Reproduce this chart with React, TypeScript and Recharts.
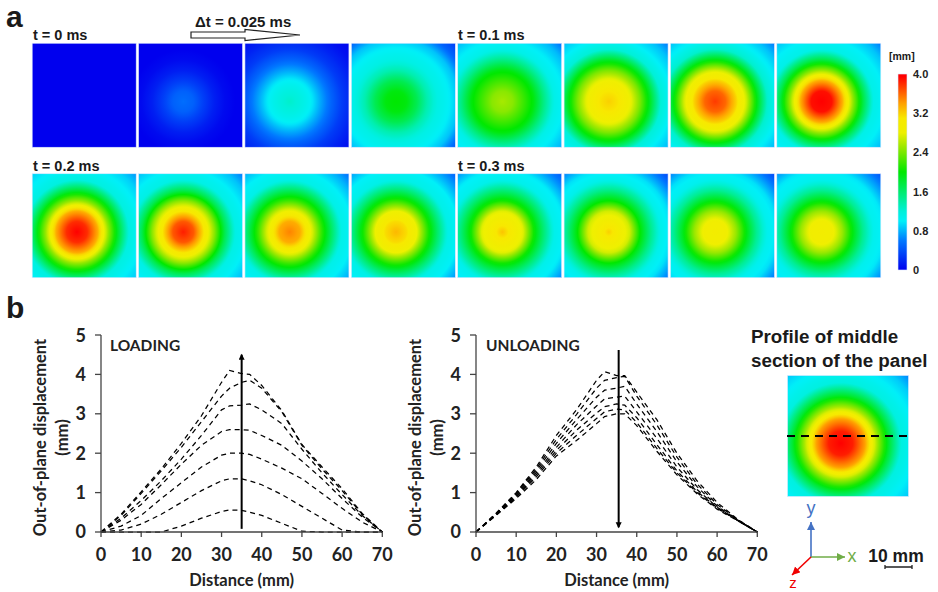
import React from "react";
import {
  BarChart, Bar, LineChart, Line, ScatterChart, Scatter, XAxis, YAxis, ReferenceLine,
} from "recharts";

// ---------- data ----------
// Displacement (mm) read at growing distances from the peak of every frame
const frameProfiles = [
  [0, 0, 0, 0, 0, 0, 0, 0, 0],
  [0.55, 0.48, 0.3, 0.15, 0.05, 0, 0, 0, 0],
  [1.25, 1.15, 1.02, 0.75, 0.5, 0.3, 0.18, 0.08, 0.03],
  [2.0, 1.95, 1.7, 1.35, 1.12, 1.02, 0.85, 0.5, 0.3],
  [2.55, 2.45, 2.2, 1.95, 1.5, 1.1, 0.98, 0.82, 0.55],
  [3.2, 3.1, 2.85, 2.4, 1.85, 1.2, 1.0, 0.85, 0.6],
  [3.75, 3.6, 3.2, 2.7, 1.95, 1.25, 1.02, 0.85, 0.6],
  [3.95, 3.9, 3.35, 2.5, 1.75, 1.1, 1.0, 0.85, 0.6],
  [3.95, 3.8, 3.35, 2.5, 1.8, 1.15, 1.02, 0.9, 0.7],
  [3.85, 3.65, 3.1, 2.45, 1.7, 1.12, 1.0, 0.85, 0.6],
  [3.5, 3.35, 2.85, 2.2, 1.65, 1.1, 1.0, 0.8, 0.55],
  [3.3, 3.15, 2.8, 2.15, 1.6, 1.1, 1.0, 0.75, 0.5],
  [3.25, 3.0, 2.75, 2.05, 1.55, 1.08, 0.98, 0.7, 0.45],
  [3.2, 2.95, 2.7, 2.0, 1.5, 1.08, 0.95, 0.65, 0.35],
  [2.95, 2.9, 2.5, 1.95, 1.45, 1.07, 0.95, 0.65, 0.35],
  [2.95, 2.9, 2.5, 1.95, 1.45, 1.07, 0.97, 0.7, 0.42],
];
const insetProfile = [3.95, 3.85, 3.4, 2.55, 1.8, 1.15, 1.02, 0.88, 0.62];
const colorStops: [number, string][] = [
  [0, "#0000ee"], [0.6, "#0078ff"], [1.0, "#00f0f8"], [1.2, "#00f0d8"], [2.0, "#00e800"],
  [2.5, "#98e800"], [2.8, "#eef000"], [3.1, "#f8e800"], [3.4, "#ffa000"], [3.95, "#ff0000"], [4, "#ff0000"],
];
const colorTicks = [0, 0.8, 1.6, 2.4, 3.2, 4.0];

const distance = [0, 5, 10, 15, 20, 25, 30, 32, 35, 37, 40, 45, 50, 55, 60, 65, 70];
const loading = [
  [0, 0, 0, 0, 0.15, 0.35, 0.52, 0.56, 0.55, 0.5, 0.42, 0.22, 0.02, 0, 0, 0, 0],
  [0, 0.05, 0.2, 0.45, 0.75, 1.05, 1.3, 1.35, 1.35, 1.3, 1.2, 0.95, 0.65, 0.35, 0.05, 0, 0],
  [0, 0.15, 0.42, 0.85, 1.25, 1.65, 1.95, 2.0, 2.0, 1.97, 1.85, 1.62, 1.35, 0.98, 0.6, 0.25, 0],
  [0, 0.3, 0.7, 1.2, 1.72, 2.2, 2.55, 2.6, 2.6, 2.58, 2.45, 2.2, 1.8, 1.35, 0.85, 0.38, 0],
  [0, 0.35, 0.8, 1.3, 1.85, 2.45, 3.1, 3.2, 3.22, 3.25, 3.1, 2.75, 2.1, 1.5, 0.95, 0.42, 0],
  [0, 0.42, 0.98, 1.55, 2.15, 2.8, 3.45, 3.65, 3.8, 3.85, 3.65, 3.05, 2.2, 1.6, 1.05, 0.45, 0],
  [0, 0.45, 1.02, 1.6, 2.25, 2.95, 3.8, 4.1, 4.02, 4.0, 3.72, 3.08, 2.22, 1.65, 1.1, 0.47, 0],
];
const unloading = [
  [0, 0.48, 1.0, 1.65, 2.45, 3.1, 3.85, 4.07, 3.97, 3.97, 3.55, 2.85, 2.0, 1.3, 0.75, 0.33, 0],
  [0, 0.47, 0.98, 1.6, 2.35, 2.98, 3.65, 3.85, 3.92, 3.95, 3.45, 2.72, 1.9, 1.22, 0.7, 0.32, 0],
  [0, 0.46, 0.95, 1.55, 2.25, 2.85, 3.42, 3.6, 3.65, 3.7, 3.25, 2.55, 1.78, 1.15, 0.66, 0.31, 0],
  [0, 0.45, 0.93, 1.5, 2.15, 2.72, 3.2, 3.38, 3.42, 3.45, 3.05, 2.38, 1.65, 1.08, 0.63, 0.3, 0],
  [0, 0.44, 0.9, 1.45, 2.07, 2.58, 3.02, 3.18, 3.25, 3.22, 2.9, 2.22, 1.55, 1.03, 0.62, 0.3, 0],
  [0, 0.43, 0.88, 1.4, 2.0, 2.45, 2.88, 3.05, 3.12, 3.1, 2.78, 2.12, 1.5, 1.0, 0.6, 0.3, 0],
  [0, 0.42, 0.85, 1.33, 1.93, 2.32, 2.75, 2.93, 3.0, 3.0, 2.7, 2.05, 1.45, 0.97, 0.58, 0.29, 0],
];
const xTicks = [0, 10, 20, 30, 40, 50, 60, 70];
const yTicks = [0, 1, 2, 3, 4, 5];

// ---------- helpers ----------
const hex = (s: string) => [1, 3, 5].map((i) => parseInt(s.slice(i, i + 2), 16));
function colorOf(v: number) {
  for (let i = 1; i < colorStops.length; i++) {
    const [v1, c1] = colorStops[i];
    const [v0, c0] = colorStops[i - 1];
    if (v <= v1) {
      const t = (v - v0) / (v1 - v0);
      const a = hex(c0), b = hex(c1);
      return `rgb(${a.map((x, k) => Math.round(x + (b[k] - x) * t)).join(",")})`;
    }
  }
  return colorStops[colorStops.length - 1][1];
}
function Gradient({ id, profile, r, cx, cy }: { id: string; profile: number[]; r: number; cx: number; cy: number }) {
  const stops: React.ReactNode[] = [];
  const steps = 5;
  for (let i = 0; i < profile.length - 1; i++) {
    for (let s = 0; s < steps; s++) {
      const t = s / steps;
      const v = profile[i] + (profile[i + 1] - profile[i]) * t;
      stops.push(<stop key={`${i}-${s}`} offset={(i + t) / (profile.length - 1)} stopColor={colorOf(v)} />);
    }
  }
  stops.push(<stop key="end" offset={1} stopColor={colorOf(profile[profile.length - 1])} />);
  return (
    <radialGradient id={id} cx={cx} cy={cy} r={r} fx={cx} fy={cy}>
      {stops}
    </radialGradient>
  );
}

const frames = frameProfiles.map((profile, i) => ({ frame: i % 8, row: Math.floor(i / 8), index: i, profile }));
const FRAME = 104;

const rowsOf = (series: number[][]) =>
  distance.map((d, i) => {
    const row: Record<string, number> = { d };
    series.forEach((s, k) => { row[`c${k}`] = s[i]; });
    return row;
  });

const FONT_B = "'Liberation Sans', Arial, sans-serif";
const FONT_C = "Lato, 'Open Sans', sans-serif";

function Profile({ rows, n, arrowUp, id }: { rows: Record<string, number>[]; n: number; arrowUp: boolean; id: string }) {
  const seg = arrowUp
    ? [{ x: 35, y: 0.08 }, { x: 35, y: 4.5 }]
    : [{ x: 35.5, y: 4.62 }, { x: 35.5, y: 0.12 }];
  const tick = { fontFamily: FONT_C, fontWeight: 700, fontSize: 18, fill: "#222" };
  return (
    <LineChart width={345} height={266} data={rows} margin={{ top: 10, right: 22.7, bottom: 0, left: 0 }}>
      <defs>
        <marker id={id} markerWidth="7" markerHeight="7" refX="5" refY="3" orient="auto" markerUnits="userSpaceOnUse">
          <path d="M0,0 L6,3 L0,6 Z" fill="#000" />
        </marker>
      </defs>
      <XAxis
        dataKey="d" type="number" domain={[0, 70]} ticks={xTicks} height={59}
        tick={tick} tickSize={5} tickMargin={11} axisLine={{ stroke: "#444", strokeWidth: 1.3 }}
        tickLine={{ stroke: "#444", strokeWidth: 1.3 }}
        label={{ value: "Distance (mm)", position: "insideBottom", offset: 5, style: { fontFamily: FONT_C, fontWeight: 700, fontSize: 16.5, fill: "#222" } }}
      />
      <YAxis
        type="number" domain={[0, 5]} ticks={yTicks} width={41}
        tick={tick} tickSize={6} tickMargin={9} axisLine={{ stroke: "#444", strokeWidth: 1.3 }}
        tickLine={{ stroke: "#444", strokeWidth: 1.3 }}
      />
      {Array.from({ length: n }, (_, k) => (
        <Line key={k} dataKey={`c${k}`} type="linear" stroke="#000" strokeWidth={1.25} strokeDasharray="5 4" dot={false} isAnimationActive={false} />
      ))}
      <ReferenceLine segment={seg} stroke="#000" strokeWidth={2} markerEnd={`url(#${id})`} />
    </LineChart>
  );
}

const T = (p: any) => <text fontFamily={FONT_B} fontWeight={700} fill="#1a1a1a" {...p} />;
const C = (p: any) => <text fontFamily={FONT_C} fontWeight={700} fill="#222" {...p} />;

export default function App() {
  return (
    <div style={{ position: "absolute", left: 0, top: 0, width: 938, height: 592, background: "#fff", overflow: "hidden" }}>
      {/* frames */}
      <div style={{ position: "absolute", left: 30.6, top: 30.25 }}>
        <ScatterChart width={851} height={261} margin={{ top: 0, right: 0, bottom: 0, left: 0 }}>
          <defs>
            {frames.map((f) => (
              <Gradient key={f.index} id={`fr${f.index}`} profile={f.profile} r={0.8} cx={0.43} cy={0.56} />
            ))}
          </defs>
          <XAxis type="number" dataKey="frame" domain={[-0.5, 7.5]} hide />
          <YAxis type="number" dataKey="row" domain={[-0.5, 1.5]} reversed hide />
          <Scatter
            data={frames}
            isAnimationActive={false}
            shape={(p: any) => (
              <rect x={p.cx - FRAME / 2} y={p.cy - FRAME / 2} width={FRAME} height={FRAME}
                fill={`url(#fr${p.payload.index})`} stroke="#dbe8ff" strokeWidth={0.6} />
            )}
          />
        </ScatterChart>
      </div>

      {/* colour bar */}
      <div style={{ position: "absolute", left: 892, top: 64 }}>
        <BarChart width={41} height={216} data={[{ name: "mm", v: 4 }]} margin={{ top: 10, right: 0, bottom: 10, left: 6 }} barCategoryGap={0}>
          <defs>
            <linearGradient id="cbar" x1="0" y1="1" x2="0" y2="0">
              {colorStops.map(([v, c]) => <stop key={v} offset={v / 4} stopColor={c} />)}
            </linearGradient>
          </defs>
          <XAxis dataKey="name" hide />
          <YAxis orientation="right" type="number" domain={[0, 4]} ticks={colorTicks} width={26} axisLine={false} tickLine={false}
            interval={0} tickFormatter={(v: number) => (v === 0 ? "0" : v.toFixed(1))}
            tick={{ fontFamily: FONT_B, fontWeight: 700, fontSize: 11, fill: "#222" }} tickMargin={0} />
          <Bar dataKey="v" fill="url(#cbar)" stroke="#dbe8ff" strokeWidth={0.6} isAnimationActive={false} />
        </BarChart>
      </div>

      {/* profiles */}
      <div style={{ position: "absolute", left: 60, top: 325 }}>
        <Profile rows={rowsOf(loading)} n={loading.length} arrowUp id="arrUp" />
      </div>
      <div style={{ position: "absolute", left: 435, top: 325 }}>
        <Profile rows={rowsOf(unloading)} n={unloading.length} arrowUp={false} id="arrDown" />
      </div>

      {/* section inset */}
      <div style={{ position: "absolute", left: 787, top: 375 }}>
        <ScatterChart width={122} height={122} margin={{ top: 0, right: 0, bottom: 0, left: 0 }}>
          <defs>
            <Gradient id="inset" profile={insetProfile} r={0.8} cx={0.44} cy={0.56} />
          </defs>
          <XAxis type="number" dataKey="x" domain={[0, 70]} hide />
          <YAxis type="number" dataKey="y" domain={[0, 70]} hide />
          <Scatter data={[{ x: 35, y: 35 }]} isAnimationActive={false}
            shape={(p: any) => <rect x={p.cx - 60.5} y={p.cy - 60.5} width={121} height={121} fill="url(#inset)" stroke="#dbe8ff" strokeWidth={0.6} />} />
          <Scatter data={[{ x: 0, y: 35 }, { x: 70, y: 35 }]} isAnimationActive={false}
            line={{ stroke: "#000", strokeWidth: 2, strokeDasharray: "8 6" }} shape={() => <g />} />
        </ScatterChart>
      </div>

      {/* annotations */}
      <svg width={938} height={592} style={{ position: "absolute", left: 0, top: 0, pointerEvents: "none" }}>
        <defs>
          <marker id="mB" markerWidth="10" markerHeight="10" refX="8" refY="4" orient="auto" markerUnits="userSpaceOnUse"><path d="M0,0 L8,4 L0,8 Z" fill="#4472c4" /></marker>
          <marker id="mG" markerWidth="10" markerHeight="10" refX="8" refY="4" orient="auto" markerUnits="userSpaceOnUse"><path d="M0,0 L8,4 L0,8 Z" fill="#70ad47" /></marker>
          <marker id="mR" markerWidth="10" markerHeight="10" refX="8" refY="4" orient="auto" markerUnits="userSpaceOnUse"><path d="M0,0 L8,4 L0,8 Z" fill="#f00000" /></marker>
        </defs>
        <T x={6} y={27} fontSize={30}>a</T>
        <T x={6} y={318} fontSize={30}>b</T>
        <T x={33} y={40} fontSize={14.5}>t = 0 ms</T>
        <T x={458} y={40} fontSize={14.5}>t = 0.1 ms</T>
        <T x={33} y={171} fontSize={14.5}>t = 0.2 ms</T>
        <T x={458} y={171} fontSize={14.5}>t = 0.3 ms</T>
        <T x={195} y={27} fontSize={15}>Δt = 0.025 ms</T>
        <polygon points="191,32 245,32 245,29.5 300,35 245,40.5 245,38 191,38" fill="#fff" stroke="#222" strokeWidth={1.2} />
        <T x={889} y={60} fontSize={10.5}>[mm]</T>

        <C x={110} y={351} fontSize={15.5}>LOADING</C>
        <C x={486} y={351} fontSize={15.5}>UNLOADING</C>
        <C transform="translate(46,437.5) rotate(-90)" textAnchor="middle" fontSize={16.5}>Out-of-plane displacement</C>
        <C transform="translate(68,437.5) rotate(-90)" textAnchor="middle" fontSize={16.5}>(mm)</C>
        <C transform="translate(421,437.5) rotate(-90)" textAnchor="middle" fontSize={16.5}>Out-of-plane displacement</C>
        <C transform="translate(443,437.5) rotate(-90)" textAnchor="middle" fontSize={16.5}>(mm)</C>

        <T x={751} y={343} fontSize={18.8}>Profile of middle</T>
        <T x={751} y={367} fontSize={18.8}>section of the panel</T>

        <line x1={811} y1={557} x2={811} y2={522} stroke="#4472c4" strokeWidth={1.6} markerEnd="url(#mB)" />
        <line x1={811} y1={557} x2={845} y2={557} stroke="#70ad47" strokeWidth={1.6} markerEnd="url(#mG)" />
        <line x1={811} y1={557} x2={792} y2={575} stroke="#f00000" strokeWidth={1.6} markerEnd="url(#mR)" />
        <text x={811} y={514} fontFamily={FONT_B} fontSize={18} fill="#4472c4" textAnchor="middle">y</text>
        <text x={852} y={562} fontFamily={FONT_B} fontSize={18} fill="#70ad47" textAnchor="middle">x</text>
        <text x={793} y={588} fontFamily={FONT_B} fontSize={15} fill="#f00000" textAnchor="middle">z</text>
        <T x={896} y={562} fontSize={17.5} textAnchor="middle">10 mm</T>
        <path d="M885,567 H912 M885,565 V569 M912,565 V569" stroke="#222" strokeWidth={1.3} fill="none" />
      </svg>
    </div>
  );
}
